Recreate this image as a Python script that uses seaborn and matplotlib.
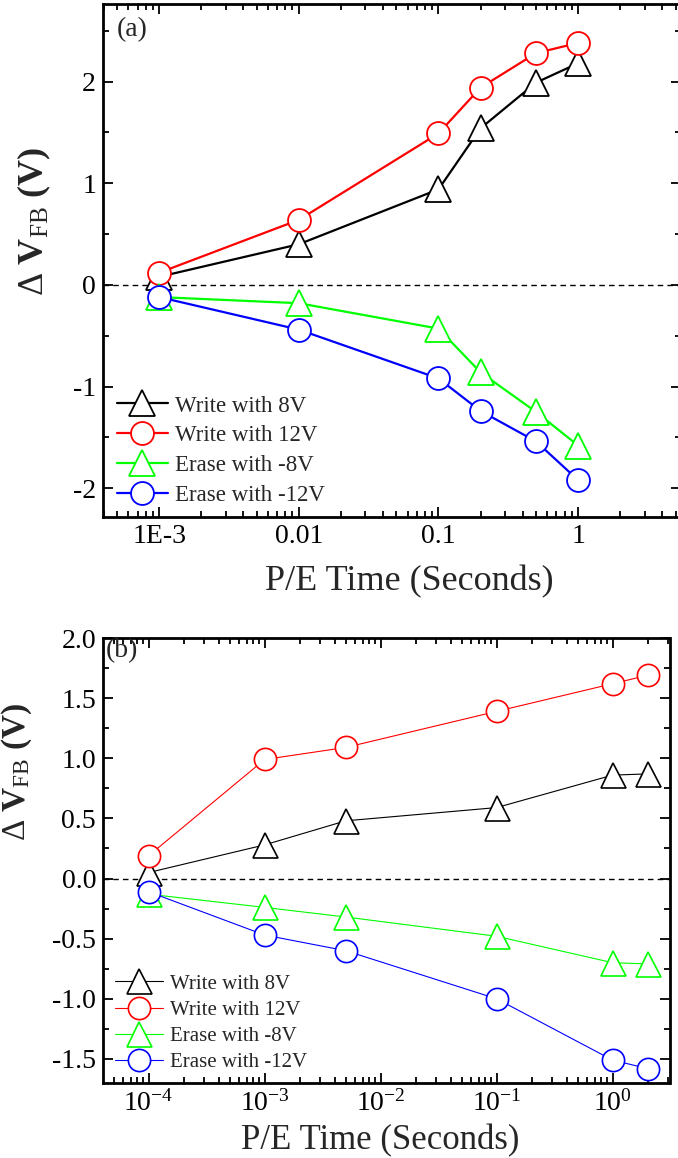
import numpy as np
import pandas as pd
import matplotlib
matplotlib.use("Agg")
import matplotlib.pyplot as plt
from matplotlib.ticker import FixedLocator, LogLocator, NullFormatter, MultipleLocator
import seaborn as sns

# ---- data -------------------------------------------------------------
labels = ["Write with 8V", "Write with 12V", "Erase with -8V", "Erase with -12V"]
colors = ["#000000", "#FF0000", "#00FF00", "#0000FF"]
markers = ["^", "o", "^", "o"]

# panel (a)
time_a = [1e-3, 0.01, 0.1, 0.2, 0.5, 1.0]
write8_a = [0.08, 0.40, 0.94, 1.54, 1.99, 2.18]
write12_a = [0.12, 0.64, 1.49, 1.94, 2.28, 2.38]
erase8_a = [-0.12, -0.18, -0.43, -0.86, -1.25, -1.58]
erase12_a = [-0.12, -0.44, -0.92, -1.24, -1.54, -1.92]
xtick_vals_a = [1e-3, 0.01, 0.1, 1.0]
xtick_labels_a = ["1E-3", "0.01", "0.1", "1"]

# panel (b)
time_b = [1e-4, 1e-3, 5e-3, 0.1, 1.0, 2.0]
write8_b = [0.05, 0.28, 0.48, 0.59, 0.86, 0.87]
write12_b = [0.19, 0.99, 1.09, 1.39, 1.62, 1.69]
erase8_b = [-0.13, -0.24, -0.32, -0.48, -0.70, -0.71]
erase12_b = [-0.11, -0.47, -0.60, -1.00, -1.51, -1.58]
xtick_vals_b = [1e-4, 1e-3, 1e-2, 1e-1, 1.0]
xtick_labels_b = [r"$10^{-4}$", r"$10^{-3}$", r"$10^{-2}$", r"$10^{-1}$", r"$10^{0}$"]

# ---- style ------------------------------------------------------------
sns.set_style("ticks")
plt.rcParams["font.family"] = ["Liberation Serif", "DejaVu Serif"]
plt.rcParams["mathtext.fontset"] = "custom"
plt.rcParams["mathtext.rm"] = "Liberation Serif"
plt.rcParams["mathtext.it"] = "Liberation Serif:italic"
plt.rcParams["mathtext.bf"] = "Liberation Serif:bold"
plt.rcParams["axes.unicode_minus"] = False

W, H = 678, 1158
fig = plt.figure(figsize=(W / 100, H / 100), dpi=100)
fig.patch.set_facecolor("white")

ax1 = fig.add_axes([103 / W, 1 - 516.7 / H, (681 - 103) / W, (516.7 - 4) / H])
ax2 = fig.add_axes([103 / W, 1 - 1083 / H, (669.5 - 103) / W, (1083 - 638) / H])


def draw_panel(ax, t, series, lw, ms_circ, ms_tri, mew):
    for lab, col, mk, vals in zip(labels, colors, markers, series):
        df = pd.DataFrame({"t": t, "v": vals})
        sns.lineplot(data=df, x="t", y="v", ax=ax, color=col, lw=lw,
                     marker=mk, markersize=ms_circ if mk == "o" else ms_tri,
                     markerfacecolor="white", markeredgecolor=col,
                     markeredgewidth=mew, label=lab, legend=False)
    ax.axhline(0, color="black", lw=1.0, ls=(0, (4, 3)), zorder=0.5)


def style_axes(ax, spine_w=2.0):
    for s in ax.spines.values():
        s.set_visible(True)
        s.set_linewidth(spine_w)
        s.set_color("black")
    ax.tick_params(which="both", direction="in", top=True, right=True,
                   colors="black", labelsize=20, width=1.3)
    ax.tick_params(which="major", length=7, pad=5)
    ax.tick_params(which="minor", length=4)
    ax.set_facecolor("white")
    ax.grid(False)


# ---- panel (a) --------------------------------------------------------
ax1.set_xscale("log")
draw_panel(ax1, time_a, [write8_a, write12_a, erase8_a, erase12_a],
           lw=1.6, ms_circ=16.5, ms_tri=18.5, mew=1.3)
ax1.set_xlim(10 ** -3.403, 10 ** 0.737)
ax1.set_ylim(-2.28, 2.763)
style_axes(ax1)
ax1.xaxis.set_major_locator(FixedLocator(xtick_vals_a))
ax1.set_xticklabels(xtick_labels_a)
ax1.xaxis.set_minor_locator(LogLocator(base=10, subs=np.arange(2, 10)))
ax1.xaxis.set_minor_formatter(NullFormatter())
ax1.yaxis.set_major_locator(MultipleLocator(1))
ax1.yaxis.set_minor_locator(MultipleLocator(0.5))
ax1.set_xlabel("P/E Time (Seconds)", fontsize=26)
ax1.xaxis.set_label_coords(0.53, -0.095)
ax1.set_ylabel(r"$\Delta\ \mathbf{V}_{\mathrm{FB}}\ \mathbf{(V)}$", fontsize=26)
ax1.yaxis.set_label_coords(-0.087, 0.577)
ax1.text(0.024, 0.975, "(a)", transform=ax1.transAxes, fontsize=20,
         ha="left", va="top")
ax1.legend(loc="lower left", bbox_to_anchor=(0.024, 0.020), frameon=False,
           fontsize=16.5, handlelength=2.23, handletextpad=0.3,
           labelspacing=0.39, borderpad=0, borderaxespad=0, numpoints=1)

# ---- panel (b) --------------------------------------------------------
ax2.set_xscale("log")
draw_panel(ax2, time_b, [write8_b, write12_b, erase8_b, erase12_b],
           lw=0.8, ms_circ=16, ms_tri=18, mew=1.2)
ax2.set_xlim(10 ** -4.394, 10 ** 0.49)
ax2.set_ylim(-1.70, 2.0)
style_axes(ax2)
ax2.xaxis.set_major_locator(FixedLocator(xtick_vals_b))
ax2.set_xticklabels(xtick_labels_b)
ax2.xaxis.set_minor_locator(LogLocator(base=10, subs=np.arange(2, 10)))
ax2.xaxis.set_minor_formatter(NullFormatter())
ax2.yaxis.set_major_locator(MultipleLocator(0.5))
ax2.yaxis.set_minor_locator(MultipleLocator(0.25))
ax2.yaxis.set_major_formatter(matplotlib.ticker.FormatStrFormatter("%.1f"))
ax2.set_xlabel("P/E Time (Seconds)", fontsize=25)
ax2.xaxis.set_label_coords(0.49, -0.092)
ax2.set_ylabel(r"$\Delta\ \mathbf{V}_{\mathrm{FB}}\ \mathbf{(V)}$", fontsize=24)
ax2.yaxis.set_label_coords(-0.121, 0.70)
ax2.text(0.005, 1.0, "(b)", transform=ax2.transAxes, fontsize=20,
         ha="left", va="top")
ax2.legend(loc="lower left", bbox_to_anchor=(0.021, 0.025), frameon=False,
           fontsize=15, handlelength=2.3, handletextpad=0.34,
           labelspacing=0.31, borderpad=0, borderaxespad=0, numpoints=1)

fig.savefig("out.png", dpi=100, facecolor="white")
